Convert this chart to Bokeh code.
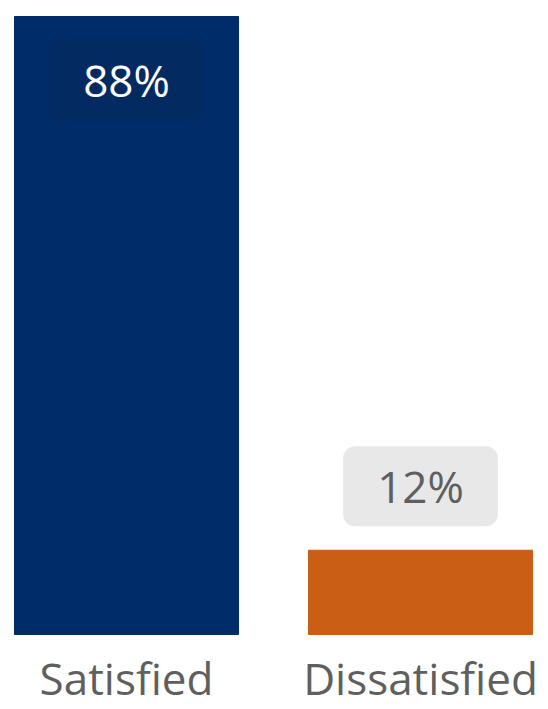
from bokeh.plotting import figure
from bokeh.models import ColumnDataSource, Range1d
from bokeh.core.properties import value
from bokeh.embed import file_html
from bokeh.resources import INLINE

categories = ["Satisfied", "Dissatisfied"]
shares = [88, 12]
bar_colors = ["#002D6A", "#CA5E14"]
label_texts = ["88%", "12%"]
label_fill = ["#042A62", "#E8E8E8"]
label_color = ["#FFFFFF", "#5F5F5F"]

xs = list(range(len(categories)))

p = figure(width=540, height=709, output_backend="svg",
           toolbar_location=None, x_range=Range1d(-0.4014, 1.408),
           y_range=Range1d(-10.68, 89.14), min_border=0,
           min_border_left=8, min_border_top=8)
p.background_fill_color = "white"
p.outline_line_color = None
p.grid.visible = False
p.xaxis.visible = False
p.yaxis.visible = False

p.vbar(x=xs, top=shares, bottom=0, width=0.762, color=bar_colors)

src_in = ColumnDataSource(dict(x=[xs[0]], y=[shares[0]], t=[label_texts[0]],
                               fill=[label_fill[0]], c=[label_color[0]]))
p.text(x="x", y="y", text="t", source=src_in, text_align="center",
       text_baseline="top", y_offset=23, text_color="c",
       text_font=value("Open Sans"), text_font_size="44px",
       background_fill_color="fill", border_radius=10, padding=(34, 10))

src_out = ColumnDataSource(dict(x=[xs[1]], y=[shares[1]], t=[label_texts[1]],
                                fill=[label_fill[1]], c=[label_color[1]]))
p.text(x="x", y="y", text="t", source=src_out, text_align="center",
       text_baseline="bottom", y_offset=-24, text_color="c",
       text_font=value("Open Sans"), text_font_size="44px",
       background_fill_color="fill", border_radius=12, padding=(34, 10))

# category labels under the bars
cat_src = ColumnDataSource(dict(x=xs, y=[0] * len(xs), t=categories))
p.text(x="x", y="y", text="t", source=cat_src, text_align="center",
       text_baseline="top", y_offset=14, text_color="#5F5F5F",
       text_font=value("Open Sans"), text_font_size="44px")

open("out.html", "w").write(file_html(p, INLINE))
